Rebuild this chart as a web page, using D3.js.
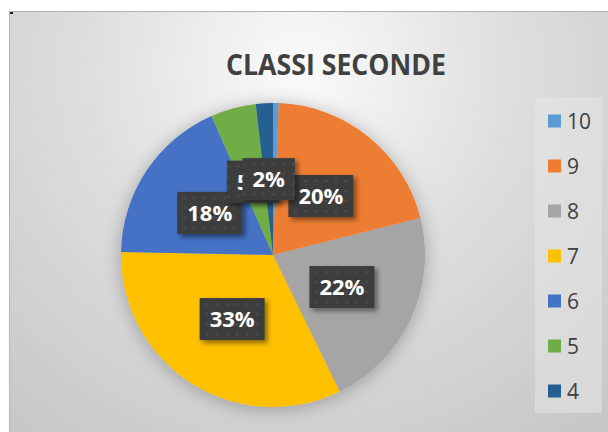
<!DOCTYPE html>
<html>
<head>
<meta charset="utf-8">
<script src="https://cdn.jsdelivr.net/npm/d3@7"></script>
<style>
  body { margin: 0; background: #fff; }
  svg { display: block; }
  text { font-family: "Open Sans", "DejaVu Sans", sans-serif; }
</style>
</head>
<body>
<div id="chart"></div>
<script>
const width = 608,
  height = 432;

// data (number of pupils per grade)
const grades = ['10', '9', '8', '7', '6', '5', '4'];
const counts = [1, 34, 36, 54, 30, 8, 3];
const colors = ['#5B9BD5', '#ED7D31', '#A5A5A5', '#FFC000', '#4472C4', '#70AD47', '#255E91'];
const showLabel = [false, true, true, true, true, true, true];
const title = 'CLASSI SECONDE';

const data = grades.map((g, i) => ({ grade: g, value: counts[i], i }));
const total = d3.sum(counts);

const cx = 273, cy = 255, radius = 152;

const color = d3.scaleOrdinal().domain(grades).range(colors);

const svg = d3.select('#chart').append('svg')
    .attr('width', width)
    .attr('height', height);

const defs = svg.append('defs');

const bg = defs.append('radialGradient')
    .attr('id', 'bg')
    .attr('gradientUnits', 'userSpaceOnUse')
    .attr('cx', 300).attr('cy', 70).attr('r', 470);
bg.append('stop').attr('offset', '0%').attr('stop-color', '#fbfbfb');
bg.append('stop').attr('offset', '45%').attr('stop-color', '#dedede');
bg.append('stop').attr('offset', '100%').attr('stop-color', '#c6c6c6');

const pieShadow = defs.append('filter').attr('id', 'pieShadow')
    .attr('x', '-20%').attr('y', '-20%').attr('width', '140%').attr('height', '140%');
pieShadow.append('feDropShadow')
    .attr('dx', 0).attr('dy', 2).attr('stdDeviation', 9)
    .attr('flood-color', '#000').attr('flood-opacity', 0.28);

const boxShadow = defs.append('filter').attr('id', 'boxShadow')
    .attr('x', '-30%').attr('y', '-30%').attr('width', '160%').attr('height', '160%');
boxShadow.append('feDropShadow')
    .attr('dx', 3).attr('dy', 3).attr('stdDeviation', 2.5)
    .attr('flood-color', '#000').attr('flood-opacity', 0.45);

const dots = defs.append('pattern')
    .attr('id', 'dots')
    .attr('patternUnits', 'userSpaceOnUse')
    .attr('width', 10).attr('height', 10);
dots.append('rect').attr('width', 10).attr('height', 10).attr('fill', '#3d3d3d');
dots.append('circle').attr('cx', 5).attr('cy', 5).attr('r', 1.6).attr('fill', '#4b4b4b');

// chart area
svg.append('rect')
    .attr('x', 9).attr('y', 11)
    .attr('width', width - 9).attr('height', height - 11)
    .attr('fill', 'url(#bg)');
svg.append('path')
    .attr('d', `M9.5,${height} V11.5 H${width}`)
    .attr('fill', 'none')
    .attr('stroke', '#b4b4b4');
svg.append('rect')
    .attr('x', 10).attr('y', 12).attr('width', 3).attr('height', 2)
    .attr('fill', '#222');

svg.append('text')
    .attr('x', 336)
    .attr('y', 75)
    .attr('text-anchor', 'middle')
    .attr('font-size', 29)
    .attr('font-weight', 'bold')
    .attr('fill', '#404040')
    .attr('textLength', 220)
    .attr('lengthAdjust', 'spacingAndGlyphs')
    .text(title);

// pie
const pie = d3.pie().value((d) => d.value).sort(null);
const arc = d3.arc().innerRadius(0).outerRadius(radius);
const arcs = pie(data);

const g = svg.append('g')
    .attr('transform', `translate(${cx},${cy})`);

g.append('g')
    .attr('filter', 'url(#pieShadow)')
  .selectAll('path')
    .data(arcs)
  .enter().append('path')
    .attr('d', arc)
    .attr('fill', (d) => color(d.data.grade));

// data labels, centred on each slice's centroid
const fmt = d3.format('.0%');
const labels = g.selectAll('.label')
    .data(arcs.filter((d) => showLabel[d.data.i]))
  .enter().append('g')
    .attr('class', 'label')
    .attr('transform', (d) => `translate(${arc.centroid(d)})`);

labels.each(function (d) {
  const lab = d3.select(this);
  const rect = lab.append('rect').attr('fill', 'url(#dots)').attr('filter', 'url(#boxShadow)');
  const t = lab.append('text')
      .attr('text-anchor', 'middle')
      .attr('dy', '0.36em')
      .attr('font-size', 22)
      .attr('font-weight', 'bold')
      .attr('fill', '#fff')
      .text(fmt(d.data.value / total));
  const w = t.node().getComputedTextLength() + 20;
  rect.attr('x', -w / 2).attr('y', -21).attr('width', w).attr('height', 42);
});

// legend
const legend = svg.append('g');
legend.append('rect')
    .attr('x', 535).attr('y', 97)
    .attr('width', 67).attr('height', 316)
    .attr('fill', '#e6e6e6')
    .attr('fill-opacity', 0.55);

const legendY = d3.scalePoint().domain(grades).range([121, 391]);

const item = legend.selectAll('.item')
    .data(data)
  .enter().append('g')
    .attr('class', 'item')
    .attr('transform', (d) => `translate(548,${legendY(d.grade)})`);

item.append('rect')
    .attr('x', 0).attr('y', -6.5)
    .attr('width', 13).attr('height', 13)
    .attr('fill', (d) => color(d.grade));

item.append('text')
    .attr('x', 19)
    .attr('dy', '0.36em')
    .attr('font-size', 21)
    .attr('fill', '#404040')
    .text((d) => d.grade);
</script>
</body>
</html>
